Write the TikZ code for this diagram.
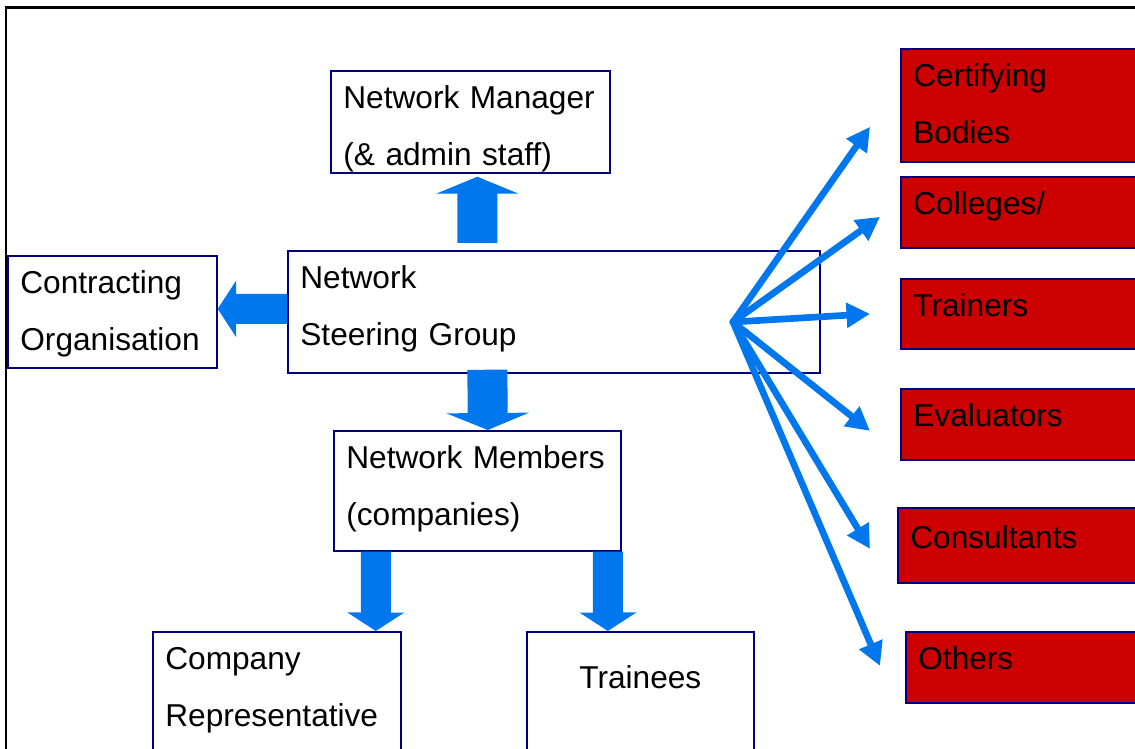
\documentclass[tikz,border=0pt]{standalone}
\usepackage{fontspec}
\setmainfont{Liberation Sans}
\usepackage{tikz}
\usetikzlibrary{calc,positioning,arrows.meta}
\usepackage{xcolor}
\definecolor{boxnavy}{RGB}{0,0,128}
\definecolor{boxred}{RGB}{204,0,0}
\definecolor{arrowblue}{RGB}{0,119,236}

\begin{document}
\begin{tikzpicture}[x=0.02cm, y=-0.02cm,
    box/.style={draw=boxnavy, line width=1pt, fill=white, anchor=north west,
      inner xsep=0.25cm, inner ysep=0pt, align=left, text height=0.76cm,
      font=\fontsize{18}{32}\selectfont},
    redbox/.style={box, fill=boxred, text width=4.7cm},
    bigblock/.style={draw=arrowblue, line width=0.8cm, -{Triangle[width=1.64cm, length=0.34cm]}},
    smallblock/.style={draw=arrowblue, line width=0.6cm, -{Triangle[width=1.12cm, length=0.37cm]}},
    fanarrow/.style={draw=arrowblue, line width=3.8pt, line cap=round, -{Triangle[width=0.48cm, length=0.47cm]}}]
  \useasboundingbox (0,0) rectangle (1135,749);
  \clip (0,0) rectangle (1135,749);
  \draw[line width=1.7pt] (6,8) rectangle (1160,770);

  % boxes of the network
  \node[box, text width=5.08cm, text depth=1.28cm] (mgr) at (330,70) {Network Manager\\(\& admin staff)};
  \node[box, text width=10.14cm, text depth=1.68cm] (steer) at (287,250) {Network\\Steering Group};
  \node[box, text width=3.68cm, text depth=1.48cm] (contr) at (7,255) {Contracting\\Organisation};
  \node[box, text width=5.24cm, text depth=1.64cm] (memb) at (333,430) {Network Members\\(companies)};
  \node[box, text width=4.46cm, text depth=2.04cm] (comp) at (152,631) {Company\\Representative};
  \node[box, align=center, text width=4.04cm, text height=1.14cm, text depth=1.66cm] (train) at (526,631) {Trainees};

  % outside partners
  \node[redbox, text depth=1.5cm] (cert) at (900,48) {Certifying\\Bodies};
  \node[redbox, text depth=0.66cm] (coll) at (900,176) {Colleges/};
  \node[redbox, text depth=0.64cm] (trnr) at (900,278) {Trainers};
  \node[redbox, text depth=0.66cm] (eval) at (900,388) {Evaluators};
  \node[redbox, text height=0.82cm, text depth=0.68cm] (cons) at (897,507) {Consultants};
  \node[redbox, text depth=0.66cm] (oth) at (905,631) {Others};

  % block arrows
  \draw[bigblock] ([xshift=-1.53cm, yshift=0.14cm]steer.north) -- ([xshift=0.14cm, yshift=-0.06cm]mgr.south);
  \draw[bigblock] ([xshift=-1.33cm, yshift=0.08cm]steer.south) -- ([xshift=0.21cm]memb.north);
  \draw[smallblock] ([yshift=0.06cm]steer.west) -- ([yshift=0.06cm]contr.east);
  \draw[smallblock] ([xshift=-2.03cm]memb.south) -- ([xshift=1.98cm]comp.north);
  \draw[smallblock] ([xshift=2.61cm]memb.south) -- ([xshift=-0.65cm]train.north);

  % fan of arrows
  \coordinate (hub) at (733,322);
  \foreach \n/\dx/\dy in {cert/-0.6/-0.43, coll/-0.4/-0.09, trnr/-0.6/0,
      eval/-0.6/-0.13, cons/-0.54/-0.07, oth/-0.5/0.03}
    \draw[fanarrow] (hub) -- ([xshift=\dx cm, yshift=\dy cm]\n.west);
\end{tikzpicture}
\end{document}
